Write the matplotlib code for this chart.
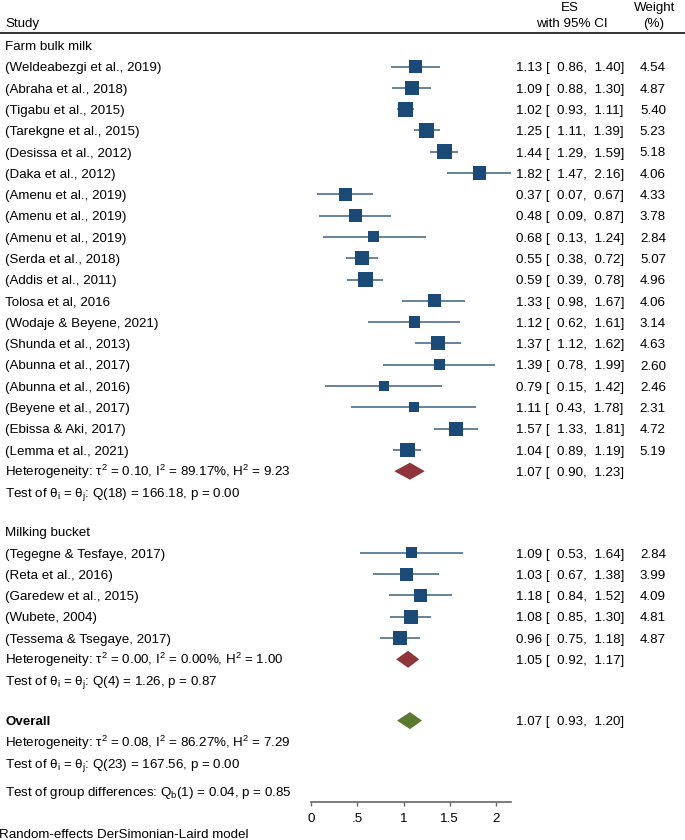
import numpy as np
import matplotlib.pyplot as plt
from matplotlib.transforms import blended_transform_factory

plt.rcParams['font.family'] = 'Liberation Sans'
plt.rcParams['mathtext.fontset'] = 'custom'
plt.rcParams['mathtext.rm'] = 'Liberation Sans'
plt.rcParams['mathtext.it'] = 'Liberation Sans:italic'
plt.rcParams['mathtext.bf'] = 'Liberation Sans:bold'

# Subgroup 1: farm bulk milk
farm_studies = ["(Weldeabezgi et al., 2019)", "(Abraha et al., 2018)", "(Tigabu et al., 2015)",
                "(Tarekgne et al., 2015)", "(Desissa et al., 2012)", "(Daka et al., 2012)",
                "(Amenu et al., 2019)", "(Amenu et al., 2019)", "(Amenu et al., 2019)",
                "(Serda et al., 2018)", "(Addis et al., 2011)", "Tolosa et al, 2016",
                "(Wodaje & Beyene, 2021)", "(Shunda et al., 2013)", "(Abunna et al., 2017)",
                "(Abunna et al., 2016)", "(Beyene et al., 2017)", "(Ebissa & Aki, 2017)",
                "(Lemma et al., 2021)"]
farm_es = [1.13, 1.09, 1.02, 1.25, 1.44, 1.82, 0.37, 0.48, 0.68, 0.55, 0.59, 1.33,
           1.12, 1.37, 1.39, 0.79, 1.11, 1.57, 1.04]
farm_lo = [0.86, 0.88, 0.93, 1.11, 1.29, 1.47, 0.07, 0.09, 0.13, 0.38, 0.39, 0.98,
           0.62, 1.12, 0.78, 0.15, 0.43, 1.33, 0.89]
farm_hi = [1.40, 1.30, 1.11, 1.39, 1.59, 2.16, 0.67, 0.87, 1.24, 0.72, 0.78, 1.67,
           1.61, 1.62, 1.99, 1.42, 1.78, 1.81, 1.19]
farm_wt = [4.54, 4.87, 5.40, 5.23, 5.18, 4.06, 4.33, 3.78, 2.84, 5.07, 4.96, 4.06,
           3.14, 4.63, 2.60, 2.46, 2.31, 4.72, 5.19]
farm_pooled = [1.07, 0.90, 1.23]
farm_het = ["0.10", "89.17%", "9.23"]
farm_q = ["18", "166.18", "0.00"]

# Subgroup 2: milking bucket
bucket_studies = ["(Tegegne & Tesfaye, 2017)", "(Reta et al., 2016)", "(Garedew et al., 2015)",
                  "(Wubete, 2004)", "(Tessema & Tsegaye, 2017)"]
bucket_es = [1.09, 1.03, 1.18, 1.08, 0.96]
bucket_lo = [0.53, 0.67, 0.84, 0.85, 0.75]
bucket_hi = [1.64, 1.38, 1.52, 1.30, 1.18]
bucket_wt = [2.84, 3.99, 4.09, 4.81, 4.87]
bucket_pooled = [1.05, 0.92, 1.17]
bucket_het = ["0.00", "0.00%", "1.00"]
bucket_q = ["4", "1.26", "0.87"]

# Overall
overall_pooled = [1.07, 0.93, 1.20]
overall_het = ["0.08", "86.27%", "7.29"]
overall_q = ["23", "167.56", "0.00"]
group_diff = ["1", "0.04", "0.85"]

xticks = [0, 0.5, 1, 1.5, 2]
xtick_labels = ["0", ".5", "1", "1.5", "2"]

SQ_COL = "#1b4a77"
CI_COL = "#5a7896"
RED = "#8e343a"
GREEN = "#5a7a30"
FS = 9.6
STEP = 21.3
W, H = 685, 840

fig = plt.figure(figsize=(W / 100, H / 100), dpi=100)
ax = fig.add_axes([311 / W, 38 / H, 200 / W, 802 / H])
ax.set_xlim(0, 200 / 92.5)
ax.set_ylim(802, 0)
ax.patch.set_visible(False)
mix = blended_transform_factory(fig.transFigure, ax.transData)


def put(xpx, y, s, ha='left', **kw):
    ax.text(xpx / W, y + 4.8, s, transform=mix, ha=ha, va='baseline', fontsize=FS, **kw)


def es_text(es, lo, hi):
    return f"{es:.2f} [  {lo:.2f},  {hi:.2f}]"


def draw_group(y0, studies, es, lo, hi, wt):
    ys = y0 + STEP * np.arange(len(studies))
    ax.hlines(ys, lo, hi, color=CI_COL, lw=1.3, zorder=2)
    side = 15 * np.sqrt(np.array(wt) / 5.4) * 0.72
    ax.scatter(es, ys, s=side ** 2, marker='s', color=SQ_COL, linewidths=0, zorder=3)
    for y, name, e, l, h, w in zip(ys, studies, es, lo, hi, wt):
        put(5, y, name)
        put(516, y, es_text(e, l, h))
        put(666, y, f"{w:.2f}", ha='right')
    return ys[-1]


def diamond(y, pooled, col):
    e, l, h = pooled
    ax.fill([l, e, h, e], [y, y - 8.5, y, y + 8.5], color=col, lw=0, zorder=3)
    put(516, y, es_text(e, l, h))


def het_lines(y, het, q):
    put(5, y, "Heterogeneity: \u03c4$^2$ = %s, I$^2$ = %s, H$^2$ = %s" % tuple(het))
    put(5, y + STEP, "Test of \u03b8$_\\mathrm{i}$ = \u03b8$_\\mathrm{j}$: Q(%s) = %s, p = %s" % tuple(q))


# header
put(5, 22.5, "Study")
put(570, 6.5, "ES", ha='center')
put(571.5, 22.5, "with 95% CI", ha='center')
put(655, 6.5, "Weight", ha='center')
put(653.5, 22.5, "(%)", ha='center')
ax.plot([0, 1], [32.5, 32.5], transform=mix, color="#333333", lw=1.4, clip_on=False)

# farm bulk milk
put(5, 45, "Farm bulk milk")
y = draw_group(66.5, farm_studies, farm_es, farm_lo, farm_hi, farm_wt)
y += STEP
diamond(y, farm_pooled, RED)
het_lines(y, farm_het, farm_q)
y += STEP

# milking bucket
y += 39
put(5, y, "Milking bucket")
y = draw_group(y + STEP, bucket_studies, bucket_es, bucket_lo, bucket_hi, bucket_wt)
y += STEP
diamond(y, bucket_pooled, RED)
het_lines(y, bucket_het, bucket_q)
y += STEP

# overall
y += 40
put(5, y, "Overall", fontweight='bold')
diamond(y, overall_pooled, GREEN)
het_lines(y + STEP, overall_het, overall_q)
put(5, 791, "Test of group differences: Q$_\\mathrm{b}$(%s) = %s, p = %s" % tuple(group_diff))
put(-1, 833, "Random-effects DerSimonian-Laird model")

# axis
for s in ['top', 'left', 'right']:
    ax.spines[s].set_visible(False)
ax.spines['bottom'].set_color("#666666")
ax.spines['bottom'].set_linewidth(1.2)
ax.set_yticks([])
ax.set_xticks(xticks)
ax.set_xticklabels(xtick_labels)
ax.tick_params(axis='x', length=3, width=1, color="#666666", pad=5, labelsize=FS)

fig.savefig("out.png", dpi=100)
